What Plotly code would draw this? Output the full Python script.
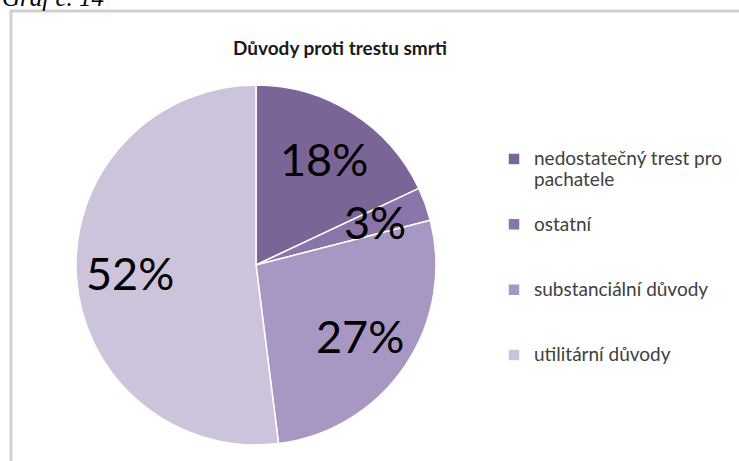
import math
import plotly.graph_objects as go

# data
labels = ["nedostatečný trest pro<br>pachatele", "ostatní", "substanciální důvody", "utilitární důvody"]
values = [18, 3, 27, 52]
colors = ["#7b6496", "#8b74aa", "#a797c2", "#cdc4dc"]

W, H = 739, 461
# pie placement in pixels
cx, cy, R = 256, 265, 180

# pad legend entries to three lines so the spacing matches the original
legend_names = []
for lab in labels:
    n = lab.count("<br>") + 1
    txt = lab + "<br>\u00a0" * (3 - n)
    legend_names.append('<span style="font-size:19px">' + txt.replace('<br>', '</span><br><span style="font-size:19px">') + '</span>')

pie = go.Pie(labels=legend_names,
             values=values,
             sort=False,
             direction='clockwise',
             rotation=0,
             textinfo='none',
             hoverinfo='percent',
             marker={'colors': colors,
                     'line': {'color': 'white', 'width': 1.5}},
             domain={'x': [(cx - R) / W, (cx + R) / W],
                     'y': [1 - (cy + R) / H, 1 - (cy - R) / H]})

fig = go.Figure(data=[pie])

# percentage labels, placed at the middle angle of each slice
annotations = []
total = float(sum(values))
cum = 0
for v in values:
    mid = (cum + v / 2.0) / total * 2 * math.pi
    cum += v
    px = cx + 0.7 * R * math.sin(mid)
    py = cy - 0.7 * R * math.cos(mid)
    annotations.append(dict(x=px / W, y=1 - py / H, xref='paper', yref='paper',
                            xanchor='center', yanchor='middle',
                            text='%d%%' % v, showarrow=False,
                            font={'family': 'Lato', 'size': 45, 'color': 'black'}))

# caption cut off at the top of the picture
annotations.append(dict(x=0 / W, y=1 - 13 / H, xref='paper', yref='paper',
                        xanchor='left', yanchor='bottom', showarrow=False,
                        text='<i>Graf č. 14</i>',
                        font={'family': 'Liberation Serif', 'size': 25, 'color': 'black'}))

fig.update_layout(width=W, height=H,
                  autosize=False,
                  margin={'l': 0, 'r': 0, 't': 0, 'b': 0},
                  paper_bgcolor='white',
                  plot_bgcolor='white',
                  title={'text': '<b>Důvody proti trestu smrti</b>',
                         'x': 340 / W, 'xanchor': 'center',
                         'y': 1 - 48 / H, 'yanchor': 'middle',
                         'font': {'family': 'Lato', 'size': 19, 'color': '#1a1a1a'}},
                  legend={'x': 494 / W, 'y': 1 - 142 / H,
                          'xanchor': 'left', 'yanchor': 'top',
                          'valign': 'top',
                          'font': {'family': 'Lato', 'size': 16, 'color': '#404040'},
                          'bgcolor': 'rgba(0,0,0,0)'},
                  annotations=annotations,
                  shapes=[dict(type='rect', xref='paper', yref='paper',
                               x0=11 / W, x1=1.02, y0=-0.02, y1=1 - 11 / H,
                               line={'color': '#d0d0d0', 'width': 3},
                               layer='below')])

fig.write_html("out.html", config={'displayModeBar': False},
               post_script="document.body.style.margin='0px';")
